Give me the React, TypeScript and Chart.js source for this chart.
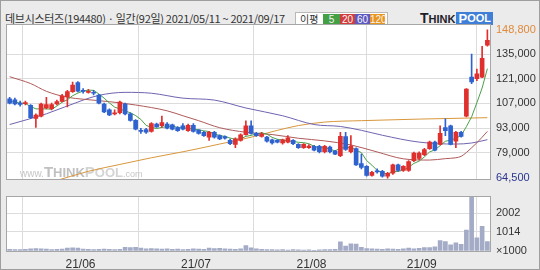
import React, { useEffect, useRef } from 'react';
import { Chart, registerables } from 'chart.js';

Chart.register(...registerables);

const FONT = '"Liberation Sans", Arial, sans-serif';
const KFONT = '"Noto Sans CJK KR", "Liberation Sans", sans-serif';

// Daily candles, 2021/05/11 ~ 2021/09/17 (92 trading days)
const opens = [
  109600, 109000, 107200, 106900, 105900, 98500, 99800, 104400, 104000, 106700,
  108100, 110900, 113700, 118900, 114400, 113300, 113000, 111800, 106700, 103300,
  101100, 101700, 106700, 101100, 97400, 91700, 92200, 91100, 95200, 94300,
  95200, 94800, 93300, 94300, 91500, 94600, 91800, 90600, 87800, 90600,
  88700, 88100, 86000, 83700, 86000, 89300, 94300, 90000, 88200, 87800,
  86300, 86000, 84500, 84900, 86000, 83700, 81900, 81900, 82600, 82600,
  79500, 82200, 79900, 77300, 88200, 79500, 81300, 72800, 71200, 66000,
  68500, 68400, 65600, 67400, 72100, 68900, 68900, 74500, 75800, 77800,
  81300, 85000, 83700, 93300, 94300, 85600, 90600, 99800, 122000, 121100,
  122000, 140100,
];
const closes = [
  107200, 106700, 106400, 107500, 98900, 100400, 106700, 106300, 106300, 108100,
  111300, 113700, 117400, 114000, 113900, 113900, 112800, 107200, 102200, 100500,
  101700, 107800, 101100, 97400, 92400, 91100, 90600, 95500, 93700, 96100,
  93000, 92400, 91500, 92400, 94600, 91100, 90000, 88700, 90600, 87800,
  86800, 87200, 84100, 86800, 89100, 94300, 90000, 88700, 89600, 85600,
  84500, 84900, 86300, 87400, 84100, 81900, 83700, 82800, 80400, 79500,
  82600, 79500, 78200, 88300, 80800, 82800, 72100, 70600, 66000, 67800,
  68100, 65600, 67300, 72100, 68900, 71200, 73900, 78700, 78700, 80800,
  85000, 80400, 90000, 91500, 83700, 90600, 88200, 115100, 119200, 123800,
  132600, 142900,
];
const highs = [
  110500, 110000, 108300, 108300, 106400, 101100, 107200, 110400, 107200, 108900,
  112200, 114400, 119200, 119400, 115500, 115000, 114400, 112200, 107200, 103900,
  103300, 108300, 107200, 101700, 97800, 92800, 92800, 96100, 95800, 99800,
  96100, 95300, 93900, 95500, 95300, 95500, 92200, 91100, 91100, 91100,
  89200, 88600, 86700, 87500, 89700, 97100, 97100, 90600, 90600, 88300,
  86700, 86400, 86700, 88700, 86400, 84200, 84200, 83600, 83200, 83200,
  83200, 82800, 80300, 90600, 90600, 88700, 81700, 78200, 71700, 68400,
  69800, 68900, 67800, 72500, 72500, 71700, 74500, 79400, 79500, 81400,
  85600, 85600, 94300, 98300, 94700, 91100, 91100, 115500, 135000, 126600,
  139500, 148800,
];
const lows = [
  106700, 106100, 105500, 106100, 98300, 93300, 99400, 103900, 103300, 106100,
  107800, 105000, 113300, 113600, 112800, 112800, 111900, 106700, 101700, 100000,
  100500, 101100, 100500, 96900, 92000, 90000, 90000, 90600, 93300, 93300,
  92500, 92000, 91100, 92000, 91100, 90600, 89500, 88300, 86000, 87200,
  86400, 86700, 83600, 81900, 85600, 88900, 89500, 88300, 87800, 85000,
  83900, 84500, 83900, 84500, 83600, 81400, 81400, 81400, 80000, 78900,
  78900, 78900, 77800, 76700, 80300, 78900, 71700, 69800, 65600, 65600,
  67300, 65100, 64500, 66700, 68400, 68400, 68400, 73900, 74900, 77300,
  80900, 80000, 83400, 88700, 83400, 81900, 87800, 99400, 118300, 120000,
  121600, 139600,
];
// Volume, in thousands of shares
const volumes = [
  90, 80, 70, 90, 120, 130, 110, 100, 80, 90,
  100, 160, 170, 150, 100, 90, 80, 90, 100, 90,
  80, 90, 190, 180, 200, 160, 110, 130, 120, 100,
  110, 90, 100, 80, 90, 110, 100, 90, 150, 130,
  140, 110, 100, 90, 110, 280, 170, 110, 90, 80,
  70, 60, 70, 50, 70, 60, 50, 60, 40, 60,
  70, 80, 90, 480, 260, 380, 370, 190, 130, 120,
  100, 90, 110, 100, 90, 120, 150, 110, 140, 180,
  180, 220, 550, 500, 330, 430, 350, 1100, 2870, 700,
  1300, 500,
];
// Moving averages
const ma5 = [
  108300, 107800, 107200, 106900, 105300, 103900, 103900, 103900, 103700, 105500,
  107700, 109100, 111400, 112900, 114000, 114600, 114400, 112400, 110000, 107300,
  104900, 103900, 102700, 101700, 100100, 97900, 94500, 93400, 92700, 93400,
  93800, 94200, 93300, 93100, 92800, 92400, 92000, 91400, 91000, 89600,
  88800, 88200, 87300, 86600, 86800, 88300, 88800, 89800, 90300, 89600,
  87700, 86600, 86200, 85700, 85400, 84900, 84700, 84100, 82600, 81700,
  81900, 81000, 80000, 81600, 81900, 82000, 80500, 79000, 74500, 71900,
  68900, 67600, 66900, 68200, 68400, 69000, 70700, 72900, 74200, 76600,
  79400, 80600, 83000, 85500, 86100, 87200, 88800, 93800, 99400, 107400,
  115800, 126800,
];
const ma20Days = [0, 4, 7, 11, 14, 19, 24, 30, 33, 36, 40, 45, 50, 55, 60, 65, 70, 75, 80, 83, 85, 86, 87, 88, 89, 90, 91];
const ma20 = [122200, 118300, 113900, 110500, 109400, 108000, 106100, 102800, 100000, 97200, 93200, 90600, 89300, 87200, 85700, 83400, 79400, 75500, 74800, 75600, 76100, 76900, 79100, 81800, 84600, 87800, 91100];
const ma60Days = [0, 7, 14, 17, 22, 27, 33, 39, 45, 52, 58, 63, 67, 71, 78, 85, 88, 91];
const ma60 = [95000, 101100, 108900, 111600, 113300, 112800, 110000, 108900, 104400, 100000, 95000, 93900, 91700, 88900, 85000, 83900, 84500, 86400];
const ma120Days = [8, 15, 21, 27, 33, 40, 46, 51, 55, 60, 67, 78, 91];
const ma120 = [62300, 68400, 72300, 76100, 79500, 83900, 87800, 91700, 94400, 96400, 97200, 98100, 98900];

const priceTicks = [148800, 135000, 121000, 107000, 93000, 79000, 64500];
const volumeTicks = [0, 1014, 2002];
const monthLabels = ['21/06', '21/07', '21/08', '21/09'];
const monthStartIdx = [14, 36, 58, 79];

const UP = '#e0302e';
const DOWN = '#2e63cf';
const GRID = '#dcdcdc';

const frame = {
  id: 'frame',
  beforeDraw(chart: any) {
    const { ctx, chartArea: a } = chart;
    ctx.save();
    ctx.fillStyle = '#ffffff';
    ctx.fillRect(a.left, a.top, a.right - a.left, a.bottom - a.top);
    ctx.restore();
  },
  afterDraw(chart: any) {
    const { ctx, chartArea: a } = chart;
    ctx.save();
    ctx.strokeStyle = '#a6a6a6';
    ctx.lineWidth = 1;
    ctx.strokeRect(Math.round(a.left) - 0.5, Math.round(a.top) - 0.5, Math.round(a.right - a.left) + 1, Math.round(a.bottom - a.top) + 1);
    ctx.restore();
  },
};

const watermark = {
  id: 'watermark',
  beforeDatasetsDraw(chart: any) {
    const { ctx, chartArea: a } = chart;
    ctx.save();
    let x = a.left + 13;
    const y = a.bottom - 2;
    const parts: [string, number, string, boolean][] = [
      ['www.', 10, '#c6c6c6', false],
      ['T', 15, '#c0c0c0', true],
      ['HINK', 13, '#c0c0c0', true],
      ['P', 15, '#d4d4d4', true],
      ['OOL', 13, '#d4d4d4', true],
      ['.com', 9, '#c6c6c6', false],
    ];
    for (const [t, size, color, bold] of parts) {
      ctx.font = `${bold ? 'bold ' : ''}${size}px ${FONT}`;
      ctx.fillStyle = color;
      ctx.fillText(t, x, y);
      x += ctx.measureText(t).width;
    }
    ctx.restore();
  },
};

const monthTickBuilder = (s: any) => {
  s.ticks = monthStartIdx.map((i) => ({ value: i - 0.5 }));
};

export default function App() {
  const priceRef = useRef<HTMLCanvasElement>(null);
  const volRef = useRef<HTMLCanvasElement>(null);

  useEffect(() => {
    const idx = opens.map((_, i) => i);
    const colors = idx.map((i) => (closes[i] >= opens[i] ? UP : DOWN));

    const priceChart = new Chart(priceRef.current as HTMLCanvasElement, {
      type: 'bar',
      data: {
        datasets: [
          {
            type: 'line', label: 'MA5', data: ma5.map((v, i) => ({ x: i, y: v })),
            borderColor: '#4aa04a', borderWidth: 1, pointRadius: 0, order: 3,
          } as any,
          {
            type: 'line', label: 'MA20', data: ma20Days.map((d, k) => ({ x: d, y: ma20[k] })),
            borderColor: '#b05a5a', borderWidth: 1, pointRadius: 0, cubicInterpolationMode: 'monotone', order: 4,
          } as any,
          {
            type: 'line', label: 'MA60', data: ma60Days.map((d, k) => ({ x: d, y: ma60[k] })),
            borderColor: '#7064b0', borderWidth: 1, pointRadius: 0, cubicInterpolationMode: 'monotone', order: 5,
          } as any,
          {
            type: 'line', label: 'MA120', data: ma120Days.map((d, k) => ({ x: d, y: ma120[k] })),
            borderColor: '#d8973c', borderWidth: 1, pointRadius: 0, cubicInterpolationMode: 'monotone', order: 6,
          } as any,
          {
            type: 'bar', label: 'wick', data: idx.map((i) => ({ x: i, y: [lows[i], highs[i]] })),
            backgroundColor: colors, barThickness: 1, grouped: false, order: 2,
          } as any,
          {
            type: 'bar', label: 'body', data: idx.map((i) => ({ x: i, y: [opens[i], closes[i]] })),
            backgroundColor: colors, barThickness: 4, grouped: false, minBarLength: 1, order: 1,
          } as any,
        ],
      },
      options: {
        responsive: false,
        animation: false,
        devicePixelRatio: 1,
        events: [],
        layout: { padding: { left: 7, top: 25, right: 0, bottom: 8 } },
        plugins: { legend: { display: false }, tooltip: { enabled: false } },
        scales: {
          x: {
            type: 'linear', min: -0.5, max: 91.5, offset: false,
            grid: { color: GRID, drawTicks: false },
            border: { display: false },
            ticks: { display: false },
            afterBuildTicks: monthTickBuilder,
            afterFit: (s: any) => { s.height = 0; },
          },
          y: {
            position: 'right', min: 63800, max: 151600,
            grid: {
              color: (c: any) => (c.tick && (c.tick.value === 148800 || c.tick.value === 64500) ? 'rgba(0,0,0,0)' : GRID),
              drawTicks: false,
            },
            border: { display: false },
            ticks: {
              padding: 6, autoSkip: false,
              font: { size: 11, family: FONT },
              color: (c: any) => (c.tick && c.tick.value === 148800 ? '#e08a3c' : c.tick && c.tick.value === 64500 ? '#2a358e' : '#333333'),
              callback: (v: any) => Number(v).toLocaleString('en-US'),
            },
            afterBuildTicks: (s: any) => { s.ticks = priceTicks.map((v) => ({ value: v })); },
            afterFit: (s: any) => { s.width = 50; },
          },
        },
      } as any,
      plugins: [frame, watermark],
    });

    const volChart = new Chart(volRef.current as HTMLCanvasElement, {
      type: 'bar',
      data: {
        datasets: [
          {
            label: 'volume', data: idx.map((i) => ({ x: i, y: volumes[i] })),
            backgroundColor: '#a3abc6', barThickness: 4,
          } as any,
        ],
      },
      options: {
        responsive: false,
        animation: false,
        devicePixelRatio: 1,
        events: [],
        layout: { padding: { left: 7, top: 3, right: 0, bottom: 0 } },
        plugins: { legend: { display: false }, tooltip: { enabled: false } },
        scales: {
          x: {
            type: 'linear', min: -0.5, max: 91.5, offset: false,
            grid: { color: GRID, drawTicks: false },
            border: { display: false },
            ticks: {
              padding: 6, autoSkip: false, maxRotation: 0,
              font: { size: 12, family: FONT }, color: '#333333',
              callback: (v: any) => {
                const k = monthStartIdx.indexOf(Number(v) + 0.5);
                return k >= 0 ? monthLabels[k] : '';
              },
            },
            afterBuildTicks: monthTickBuilder,
            afterFit: (s: any) => { s.height = 19; },
          },
          y: {
            position: 'right', min: 0, max: 2870,
            grid: {
              color: (c: any) => (c.tick && c.tick.value === 0 ? 'rgba(0,0,0,0)' : GRID),
              drawTicks: false,
            },
            border: { display: false },
            ticks: {
              padding: 6, autoSkip: false,
              font: { size: 11, family: FONT }, color: '#333333',
              callback: (v: any) => (Number(v) === 0 ? '×1000' : String(v)),
            },
            afterBuildTicks: (s: any) => { s.ticks = volumeTicks.map((v) => ({ value: v })); },
            afterFit: (s: any) => { s.width = 50; },
          },
        },
      } as any,
      plugins: [frame],
    });

    return () => {
      priceChart.destroy();
      volChart.destroy();
    };
  }, []);

  const legendBox = (bg: string, text: string, w: number) => (
    <span style={{ display: 'inline-block', width: w, height: 11, lineHeight: '11px', background: bg, color: '#f4f4f4', textAlign: 'center', fontSize: 10, fontFamily: FONT }}>{text}</span>
  );

  return (
    <div style={{ position: 'fixed', left: 0, top: 0, width: 540, height: 270, background: '#ebebeb', overflow: 'hidden', boxShadow: 'inset 0 0 0 1px #9e9e9e' }}>
      <div style={{ position: 'absolute', left: 5, top: 10, fontFamily: KFONT, fontSize: 11, lineHeight: '16px', color: '#333', whiteSpace: 'nowrap', letterSpacing: -0.3 }}>
        데브시스터즈(194480) · 일간(92일) 2021/05/11 ~ 2021/09/17
      </div>
      <div style={{ position: 'absolute', left: 295, top: 12, width: 93, height: 14, background: '#fff', border: '1px solid #b8b8b8', boxSizing: 'border-box', display: 'flex', alignItems: 'center' }}>
        <span style={{ display: 'inline-block', width: 27, paddingLeft: 4, boxSizing: 'border-box', fontFamily: KFONT, fontSize: 10, lineHeight: '12px', color: '#333' }}>이평</span>
        {legendBox('#45a045', '5', 17)}
        {legendBox('#d23c3c', '20', 15)}
        {legendBox('#5c58c4', '60', 15)}
        {legendBox('#e8961e', '120', 15)}
      </div>
      <div style={{ position: 'absolute', left: 420, top: 11, height: 14, display: 'flex', alignItems: 'flex-end', fontFamily: FONT, fontWeight: 'bold', whiteSpace: 'nowrap' }}>
        <span style={{ fontSize: 14, lineHeight: '14px', color: '#1e1e2a' }}>T</span>
        <span style={{ fontSize: 11, lineHeight: '12px', color: '#1e1e2a', marginRight: 1 }}>HINK</span>
        <span style={{ background: '#3f7fd8', color: '#ffffff', height: 13, lineHeight: '13px', padding: '0 2px', display: 'inline-flex', alignItems: 'flex-end' }}>
          <span style={{ fontSize: 13 }}>P</span>
          <span style={{ fontSize: 11 }}>OOL</span>
        </span>
      </div>
      <canvas ref={priceRef} width={540} height={192} style={{ position: 'absolute', left: 0, top: 0 }} />
      <canvas ref={volRef} width={540} height={86} style={{ position: 'absolute', left: 0, top: 184 }} />
    </div>
  );
}
